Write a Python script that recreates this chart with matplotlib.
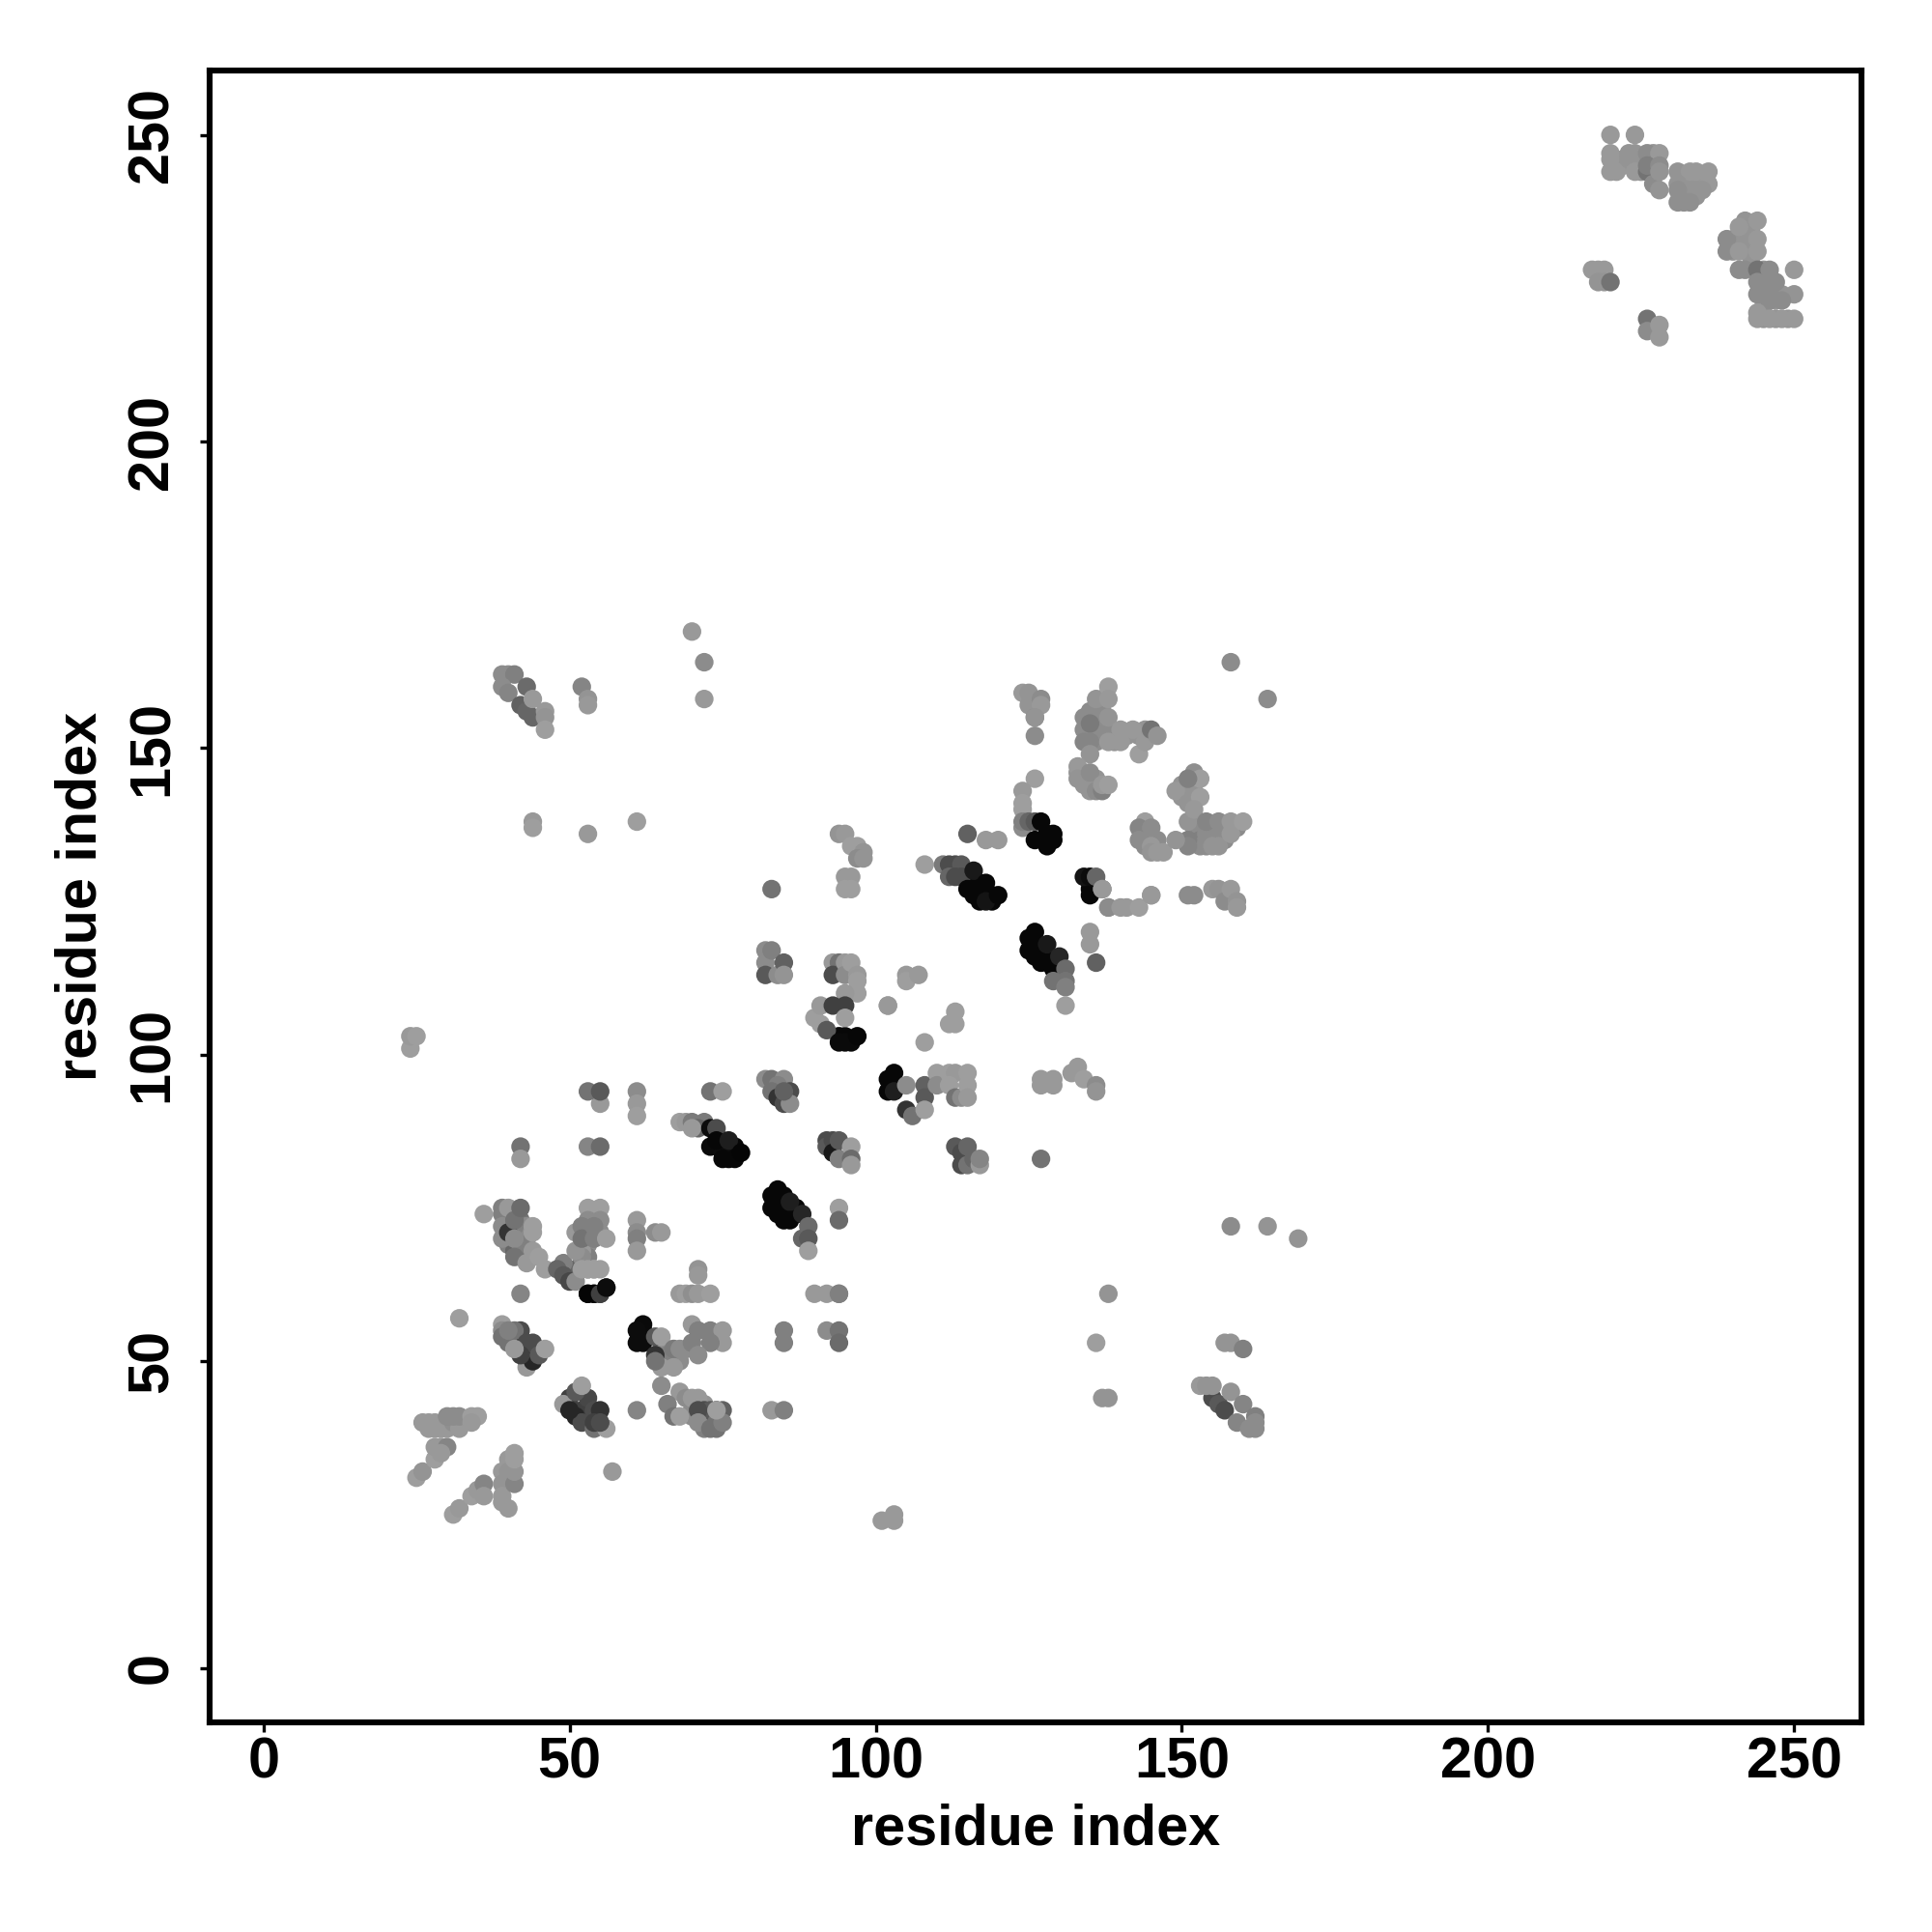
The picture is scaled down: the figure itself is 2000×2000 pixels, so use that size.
import matplotlib
matplotlib.use('Agg')
import matplotlib.pyplot as plt

plt.rcParams['font.family'] = ['Liberation Sans', 'DejaVu Sans']

# points inside the dense blobs, these are drawn first
under_x = [
    232, 232, 233, 233, 234, 234, 235, 232, 233, 234, 235,
    240, 240, 240, 242, 242, 243, 243, 243, 242, 243, 241,
    245, 245, 245, 247, 247, 245, 245, 247, 249, 248, 246,
    221, 222, 225, 225, 224, 222, 227, 225,
    136, 136, 136, 137, 137, 137, 138, 137, 135, 136, 139, 141, 143, 144,
    133, 134, 134, 136,
    150, 152, 152, 152, 152, 152, 153, 153, 153, 154, 154, 155, 156, 157, 157, 159, 150, 151,
    144, 144, 146, 145, 144,
    125, 126, 126,
    40, 40, 41, 42, 42, 43, 43, 43, 42, 40,
    53, 54, 55, 53, 52, 52, 53, 50, 51, 51,
    65, 66, 66, 67, 66, 68,
    72, 73, 71, 70, 72, 70,
    41, 42, 44, 40,
    52, 53, 53,
    75, 75, 76, 76, 77,
    85, 85, 86, 87, 87, 84,
    115, 116, 116, 117, 117, 118, 119,
    126, 126, 127, 127, 128, 128, 129, 129, 130,
    103, 62, 62, 135, 136, 94, 95,
]
under_y = [
    243, 241, 242, 240, 243, 242, 243, 242, 243, 240, 242,
    232, 231, 233, 233, 231, 234, 232, 230, 234, 235, 233,
    228, 226, 224, 224, 223, 222, 220, 220, 220, 224, 227,
    246, 246, 246, 245, 247, 245, 247, 244,
    155, 153, 151, 156, 154, 152, 153, 158, 156, 156, 151, 152, 152, 153,
    146, 146, 144, 145,
    144, 143, 142, 139, 137, 135, 137, 135, 134, 136, 134, 136, 136, 137, 135, 137, 142, 143,
    136, 134, 135, 135, 135,
    158, 157, 156,
    72, 70, 74, 73, 71, 72, 70, 69, 67, 69,
    71, 74, 71, 69, 69, 66, 67, 65, 65, 64,
    52, 52, 50, 50, 51, 50,
    41, 40, 41, 41, 43, 42,
    53, 54, 52, 53,
    42, 41, 42,
    86, 85, 83, 84, 85,
    75, 77, 74, 75, 74, 76,
    128, 127, 126, 128, 126, 126, 126,
    118, 116, 117, 116, 116, 115, 115, 114, 113,
    95, 54, 55, 127, 128, 103, 103,
]
under_grey = [
    .58, .58, .58, .58, .58, .58, .58, .58, .58, .58, .58,
    .58, .58, .58, .58, .58, .58, .58, .58, .58, .58, .58,
    .58, .58, .58, .58, .58, .58, .58, .58, .58, .58, .58,
    .58, .58, .58, .58, .58, .58, .58, .58,
    .55, .55, .55, .55, .55, .55, .55, .55, .55, .55, .58, .58, .58, .58,
    .58, .58, .58, .58,
    .58, .58, .58, .58, .55, .50, .55, .50, .55, .55, .55, .55, .55, .55, .55, .55, .58, .58,
    .55, .55, .55, .55, .55,
    .58, .58, .58,
    .50, .50, .50, .45, .40, .55, .55, .55, .45, .50,
    .55, .55, .55, .55, .55, .50, .50, .40, .40, .40,
    .55, .55, .45, .50, .50, .55,
    .45, .40, .50, .55, .58, .55,
    .20, .15, .30, .45,
    .25, .25, .25,
    .03, .03, .03, .03, .03,
    .03, .03, .03, .03, .03, .03,
    .03, .03, .03, .03, .03, .03, .03,
    .03, .03, .03, .03, .03, .03, .03, .03, .03,
    .03, .03, .03, .03, .03, .03, .03,
]

# contact map points, in drawing order (later points lie on top), one cluster per line
contact_x = [
    31, 32, 34, 35, 36, 36,
    39, 39, 39, 39, 40, 40, 40, 41, 41, 41, 41,
    25, 26, 28, 29, 28, 30, 29,
    26, 27, 27, 28, 28, 29, 30, 31, 32, 30, 31, 32, 34, 35, 34,
    32,
    42, 41, 42, 43, 43, 44, 44, 43, 42, 39, 39, 39, 40, 41, 45, 46,
    42,
    50, 51, 52, 53, 54, 54, 55, 54, 56, 49, 50, 51, 52, 55,
    53, 54, 55, 56, 53, 54, 55,
    36, 41, 41, 42, 39, 39, 39, 39, 40, 40, 41, 41, 41, 42, 44, 44, 43, 44, 45, 46,
    49, 48, 49, 50, 51, 52, 52, 51, 52, 53, 54,
    53, 55, 53, 55, 51, 52, 52, 54, 54, 56,
    53, 54, 55, 56,
    42, 42, 53, 55, 55, 53, 55, 61, 61, 61,
    61, 61, 61, 61, 64, 65,
    71, 71, 68, 69, 70, 71, 73,
    62, 61, 61, 62, 64, 64, 65, 67, 68, 69, 65, 67, 68, 66, 67, 68, 69, 64, 65,
    70, 71, 73, 75, 75, 73, 70, 71,
    70, 71, 72, 74, 73, 75, 72, 74, 71, 71, 73, 74, 75, 74,
    68, 69, 70, 72, 71, 70, 73, 74, 73, 75, 74, 75, 77, 76, 78,
    73, 75, 57, 83, 85, 85, 85, 92, 94, 94, 94, 61,
    82, 83, 85, 84, 83, 84, 85, 86, 86, 85,
    83, 83, 84, 84, 85, 86, 86, 88, 88, 89, 89, 89,
    94, 94,
    92, 92, 93, 93, 94, 94, 96, 96, 96,
    90, 92, 94,
    82, 82, 82, 83, 84, 85, 85,
    93, 94, 93, 95, 95, 96, 97, 97, 97, 95,
    90, 91, 91, 92, 93, 95, 95, 94, 95, 96, 97, 102,
    83,
    94, 95, 96, 97, 98, 97, 98, 95, 96, 95, 96,
    108, 111, 112, 113, 114, 112, 113, 114, 115, 116, 117, 118, 119, 118, 120,
    115, 118, 120,
    124, 124, 124, 125, 126, 127, 126, 128, 128, 129, 129,
    135, 135, 134, 135, 136, 137, 137, 138, 138, 140, 141, 143, 145,
    135, 135, 136,
    125, 125, 126, 127, 128, 130, 131, 129, 131, 131, 131,
    105, 105, 107, 102, 113, 112, 113, 108,
    102, 102, 103, 103, 105, 105, 106, 108, 108, 108,
    110, 110, 112, 113, 112, 113, 114, 115, 115, 115,
    127, 127, 129, 129, 132, 133, 134, 136, 136,
    113, 114, 115, 114, 115, 116, 117, 117, 127,
    124, 125, 125, 126, 127, 127, 126, 126,
    126, 124, 124,
    134, 134, 134, 135, 135, 136, 138, 138, 138, 135, 138, 140, 140, 142, 143, 144, 145, 146,
    133, 133, 135, 135, 136, 137, 137, 138,
    144, 143, 145, 143, 145, 145, 146, 147,
    149, 151, 152, 153, 153, 151, 152, 151, 151, 151, 149, 154, 155, 156, 156, 158, 158, 160,
    145, 151, 152, 155, 156, 157, 158, 159, 159,
    158, 164,
    39, 40, 41, 39, 40, 43, 42, 43, 44, 44, 46, 46, 46,
    52, 53, 53,
    157, 158, 160,
    155, 156, 157, 153, 154, 155, 158, 160, 159, 161, 162, 162, 162,
    138, 136, 137, 138, 158, 164, 169,
    101, 103, 103, 24, 24, 25, 70, 72, 72, 53, 61, 44, 44,
    217, 218, 219, 218, 219, 220,
    226, 226, 228, 228,
    220, 220, 220, 220, 221, 223, 223, 224, 224, 226, 226, 227, 228, 226, 228, 227, 228, 228,
    231, 233, 234, 236, 236, 231, 235, 231, 232, 233, 231,
    239, 239, 242, 244, 241, 241, 244, 244,
    241, 242, 244, 246, 250, 244, 246, 247, 244, 246, 250, 248, 246, 244, 244, 246, 248, 250,
]
contact_y = [
    25, 26, 28, 29, 30, 28,
    32, 30, 28, 27, 26, 34, 32, 30, 32, 35, 34,
    31, 32, 34, 36, 36, 36, 35,
    40, 40, 39, 39, 40, 39, 39, 40, 39, 41, 41, 41, 41, 41, 40,
    57,
    55, 55, 52, 50, 49, 50, 53, 53, 51, 56, 55, 54, 55, 52, 51, 52,
    61,
    44, 41, 40, 44, 42, 39, 42, 40, 39, 43, 42, 45, 46, 40,
    61, 61, 61, 62, 65, 65, 65,
    74, 72, 68, 69, 75, 74, 72, 70, 75, 71, 73, 70, 67, 75, 72, 71, 66, 68, 67, 65,
    66, 65, 64, 63, 63, 68, 67, 68, 65, 65, 65,
    75, 75, 73, 73, 71, 72, 70, 72, 70, 70,
    61, 61, 61, 62,
    85, 83, 85, 85, 92, 94, 94, 94, 92, 90,
    73, 71, 70, 68, 71, 71,
    65, 64, 61, 61, 61, 61, 61,
    56, 55, 53, 53, 54, 51, 54, 52, 52, 52, 49, 49, 45, 43, 41, 41, 44, 50, 46,
    56, 55, 55, 55, 53, 53, 53, 51,
    44, 44, 42, 42, 42, 42, 39, 39, 42, 40, 39, 40, 40, 42,
    89, 89, 89, 89, 88, 88, 88, 88, 85, 84, 86, 83, 83, 86, 84,
    94, 94, 32, 42, 42, 53, 55, 55, 55, 53, 61, 42,
    96, 96, 96, 95, 94, 93, 92, 94, 92, 94,
    75, 77, 74, 78, 73, 76, 73, 74, 70, 72, 70, 68,
    75, 73,
    86, 85, 86, 84, 86, 83, 85, 83, 82,
    61, 61, 61,
    117, 115, 113, 117, 113, 115, 113,
    115, 115, 113, 115, 113, 115, 113, 112, 110, 110,
    106, 108, 105, 104, 108, 108, 106, 102, 102, 102, 103, 108,
    127,
    136, 136, 134, 134, 133, 132, 132, 129, 129, 127, 127,
    131, 131, 131, 131, 131, 129, 129, 129, 127, 130, 125, 128, 125, 125, 126,
    136, 135, 135,
    140, 137, 138, 138, 138, 138, 135, 134, 136, 135, 136,
    128, 126, 129, 129, 129, 127, 127, 124, 124, 124, 124, 124, 126,
    120, 118, 115,
    119, 117, 120, 115, 118, 116, 114, 112, 112, 111, 108,
    113, 112, 113, 108, 107, 105, 105, 102,
    96, 94, 97, 94, 95, 91, 90, 95, 93, 91,
    97, 95, 97, 97, 95, 93, 93, 95, 93, 97,
    96, 95, 96, 95, 97, 98, 96, 95, 94,
    85, 84, 85, 82, 82, 83, 82, 83, 83,
    159, 159, 157, 155, 158, 157, 155, 152,
    145, 143, 141,
    155, 153, 151, 154, 151, 158, 160, 158, 155, 149, 151, 153, 151, 153, 149, 151, 153, 152,
    147, 145, 146, 143, 143, 143, 144, 144,
    138, 137, 137, 135, 134, 133, 133, 133,
    143, 141, 146, 145, 142, 138, 140, 135, 134, 145, 135, 138, 134, 138, 134, 136, 138, 138,
    126, 126, 126, 127, 127, 125, 127, 125, 124,
    164, 158,
    162, 162, 162, 160, 159, 160, 157, 156, 158, 155, 156, 155, 153,
    160, 158, 157,
    53, 53, 52,
    44, 43, 42, 46, 46, 46, 45, 43, 40, 39, 39, 41, 40,
    61, 53, 44, 44, 72, 72, 70,
    24, 24, 25, 101, 103, 103, 169, 164, 158, 136, 138, 138, 137,
    228, 228, 228, 226, 226, 226,
    220, 218, 219, 217,
    250, 247, 246, 244, 244, 247, 246, 250, 244, 244, 247, 245, 247, 245, 245, 242, 244, 241,
    244, 244, 244, 244, 242, 242, 241, 241, 239, 239, 239,
    233, 231, 236, 236, 235, 231, 233, 231,
    228, 228, 228, 228, 228, 226, 226, 226, 224, 224, 224, 223, 223, 221, 220, 220, 220, 220,
]
contact_grey = [
    .62, .60, .62, .60, .52, .60,
    .60, .58, .60, .60, .60, .60, .58, .52, .58, .62, .62,
    .62, .58, .62, .60, .60, .52, .60,
    .60, .60, .60, .60, .60, .60, .60, .56, .60, .55, .55, .55, .62, .62, .60,
    .62,
    .30, .45, .12, .10, .60, .15, .30, .30, .25, .62, .55, .45, .50, .60, .35, .62,
    .52,
    .25, .15, .30, .28, .30, .45, .20, .25, .62, .60, .15, .35, .62, .30,
    .02, .02, .25, .05, .55, .62, .62,
    .62, .50, .40, .50, .50, .50, .55, .55, .60, .20, .45, .55, .45, .42, .62, .62, .60, .60, .62, .62,
    .50, .40, .35, .28, .55, .60, .55, .58, .62, .62, .62,
    .62, .62, .55, .55, .60, .50, .45, .50, .50, .62,
    .02, .02, .25, .05,
    .45, .60, .52, .42, .60, .45, .35, .55, .60, .62,
    .60, .55, .50, .60, .55, .60,
    .58, .60, .60, .62, .56, .60, .62,
    .04, .05, .05, .05, .35, .20, .62, .48, .55, .55, .60, .60, .60, .50, .45, .62, .55, .45, .55,
    .60, .50, .50, .60, .60, .50, .50, .55,
    .60, .60, .30, .20, .35, .38, .50, .45, .30, .55, .45, .45, .50, .62,
    .62, .60, .48, .48, .40, .60, .05, .30, .04, .05, .03, .03, .03, .12, .02,
    .45, .62, .60, .60, .50, .50, .50, .55, .45, .42, .50, .52,
    .55, .45, .55, .50, .45, .20, .30, .30, .55, .38,
    .03, .03, .03, .03, .03, .12, .03, .15, .40, .42, .35, .62,
    .62, .42,
    .30, .35, .30, .10, .35, .50, .62, .42, .60,
    .60, .60, .50,
    .55, .55, .35, .50, .55, .38, .58,
    .60, .45, .30, .60, .55, .62, .60, .62, .62, .60,
    .62, .60, .62, .35, .25, .25, .62, .04, .04, .04, .03, .62,
    .45,
    .58, .60, .62, .62, .58, .55, .58, .60, .60, .62, .62,
    .62, .48, .30, .30, .35, .40, .30, .30, .03, .10, .03, .03, .03, .08, .03,
    .38, .60, .60,
    .62, .55, .50, .40, .35, .03, .03, .03, .03, .03, .03,
    .03, .03, .08, .05, .40, .45, .60, .60, .55, .60, .60, .62, .62,
    .60, .60, .38,
    .03, .03, .03, .03, .10, .15, .42, .45, .45, .50, .62,
    .60, .62, .60, .60, .62, .62, .62, .62,
    .03, .03, .03, .12, .55, .20, .45, .38, .35, .62,
    .62, .55, .62, .60, .62, .45, .55, .62, .60, .62,
    .60, .60, .60, .60, .60, .60, .62, .55, .58,
    .35, .30, .40, .30, .45, .40, .60, .52, .45,
    .60, .58, .58, .55, .55, .60, .58, .55,
    .62, .60, .62,
    .55, .55, .52, .48, .52, .58, .62, .60, .58, .58, .60, .60, .60, .60, .62, .60, .45, .58,
    .60, .58, .55, .58, .55, .50, .60, .62,
    .62, .52, .55, .55, .60, .58, .60, .60,
    .60, .58, .56, .62, .62, .58, .60, .50, .52, .50, .58, .52, .58, .55, .58, .60, .60, .62,
    .60, .55, .55, .60, .58, .55, .60, .58, .60,
    .55, .55,
    .55, .55, .50, .55, .52, .42, .38, .40, .60, .40, .60, .58, .62,
    .52, .58, .60,
    .58, .58, .50,
    .30, .35, .30, .60, .58, .58, .58, .52, .52, .55, .55, .50, .55,
    .58, .62, .58, .58, .55, .58, .58,
    .60, .60, .60, .62, .60, .62, .60, .55, .60, .60, .62, .60, .62,
    .60, .60, .60, .58, .58, .45,
    .45, .55, .60, .60,
    .60, .60, .60, .60, .60, .58, .58, .60, .60, .45, .55, .50, .60, .50, .55, .55, .58, .58,
    .58, .60, .60, .60, .60, .58, .58, .56, .56, .56, .56,
    .55, .55, .58, .60, .60, .60, .60, .60,
    .55, .55, .45, .55, .60, .55, .55, .55, .55, .55, .58, .55, .55, .60, .60, .60, .60, .60,
]

ticks = [0, 50, 100, 150, 200, 250]

fig = plt.figure(figsize=(10, 10), dpi=200)
ax = fig.add_axes([216.7/2000, 1-1783/2000, (1927-216.7)/2000, (1783-73)/2000])

ax.scatter(under_x + contact_x, under_y + contact_y, c=under_grey + contact_grey,
           cmap='gray', vmin=0, vmax=1, s=48, linewidths=0, zorder=2)

ax.set_xlim(-8.83, 261)
ax.set_ylim(-8.9, 260.5)
ax.set_xticks(ticks)
ax.set_yticks(ticks)
ax.tick_params(length=3.6, width=1.2, labelsize=21.4)
ax.tick_params(axis='x', pad=1.5)
ax.tick_params(axis='y', pad=7.7)
for lab in ax.get_xticklabels():
    lab.set_fontweight('bold')
for lab in ax.get_yticklabels():
    lab.set_fontweight('bold')
    lab.set_rotation(90)
    lab.set_verticalalignment('center')
for sp in ax.spines.values():
    sp.set_linewidth(2.2)

ax.set_xlabel('residue index', fontsize=21.4, fontweight='bold', labelpad=5.2)
ax.set_ylabel('residue index', fontsize=21.4, fontweight='bold', labelpad=6.7)

plt.savefig('out.png', dpi=200)
plt.close('all')
